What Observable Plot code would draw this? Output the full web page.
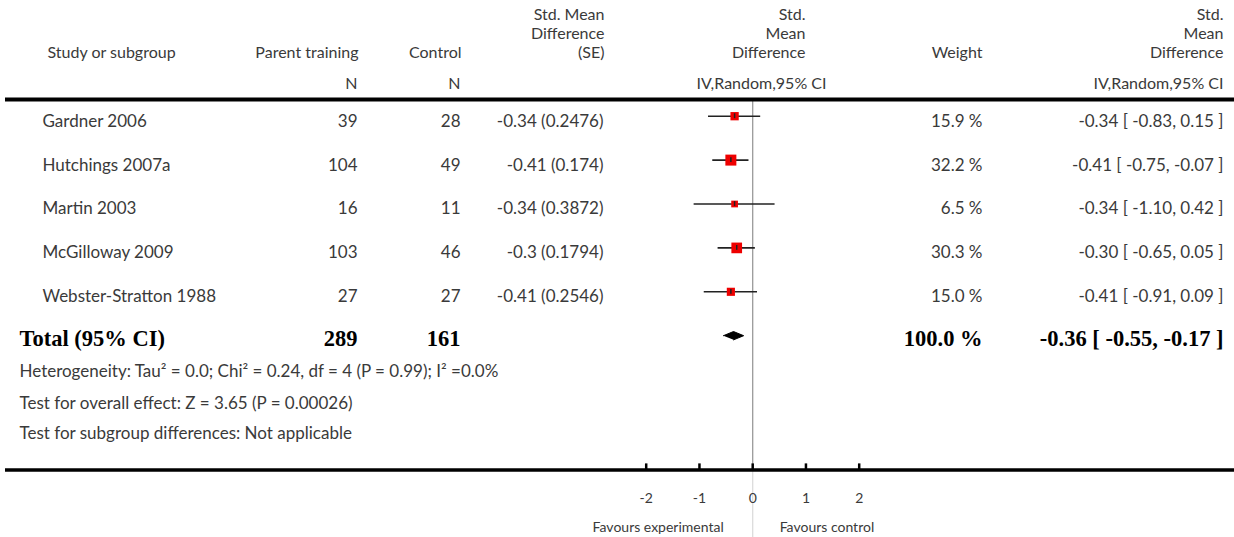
<!DOCTYPE html>
<html>
<head>
<meta charset="utf-8">
<script src="https://cdn.jsdelivr.net/npm/d3@7"></script>
<script src="https://cdn.jsdelivr.net/npm/@observablehq/plot@0.6"></script>
<style>
  html, body { margin: 0; padding: 0; background: #fff; }
  #chart svg { display: block; }
</style>
</head>
<body>
<div id="chart"></div>
<script>
// ---------- data ----------
const studies = ["Gardner 2006", "Hutchings 2007a", "Martin 2003", "McGilloway 2009", "Webster-Stratton 1988"];
const nParent = [39, 104, 16, 103, 27];
const nControl = [28, 49, 11, 46, 27];
const smd = [-0.34, -0.41, -0.34, -0.3, -0.41];
const se = [0.2476, 0.174, 0.3872, 0.1794, 0.2546];
const weights = [15.9, 32.2, 6.5, 30.3, 15.0];
const ciLow = [-0.83, -0.75, -1.10, -0.65, -0.91];
const ciHigh = [0.15, -0.07, 0.42, 0.05, 0.09];
const totalLabel = "Total (95% CI)";
const totalN = [289, 161];
const totalWeight = 100.0;
const totalEst = [-0.36, -0.55, -0.17]; // estimate, low, high
const xTicks = [-2, -1, 0, 1, 2];
const footnotes = [
  "Heterogeneity: Tau\u00b2 = 0.0; Chi\u00b2 = 0.24, df = 4 (P = 0.99); I\u00b2 =0.0%",
  "Test for overall effect: Z = 3.65 (P = 0.00026)",
  "Test for subgroup differences: Not applicable"
];
const favours = ["Favours experimental", "Favours control"];

// ---------- table ----------
const rows = studies.map((name, i) => ({
  name, n1: nParent[i], n2: nControl[i], smd: smd[i], se: se[i],
  w: weights[i], lo: ciLow[i], hi: ciHigh[i], row: i + 1
}));
const totalRow = 6;
const f2 = d => d.toFixed(2);
const ciText = (e, l, h) => `${f2(e)} [ ${f2(l)}, ${f2(h)} ]`;
const diamond = [
  {x: totalEst[1], y: totalRow},
  {x: totalEst[0], y: totalRow - 0.095},
  {x: totalEst[2], y: totalRow},
  {x: totalEst[0], y: totalRow + 0.095}
];

// layout rows (row units of the y scale)
const L = {h1: -1.30, h2: -0.875, h3: -0.44, hN: 0.271, topRule: 0.62,
  foot: [6.81, 7.54, 8.22], axis: 9.06, tickTop: 8.92, tickLab: 9.71, fav: 10.38, bottom: 10.62};

const sans = "Lato, 'Open Sans', sans-serif";
const serif = "'Liberation Serif', 'DejaVu Serif', serif";
const T = {fill: "#3a3a3a", fontSize: 17, fontFamily: sans, frameAnchor: "left"};
const TH = {...T, fontSize: 16};
const TB = {fill: "#000", fontSize: 22.5, fontWeight: "bold", fontFamily: serif, frameAnchor: "left"};
const one = [0];

const chart = Plot.plot({
  width: 1234,
  height: 537,
  margin: 0,
  x: {domain: [-2, 2], range: [645.7, 858.7], axis: null},
  y: {domain: [0, 10], range: [71.8, 510.8], axis: null},
  r: {type: "linear", domain: [6.5, 32.2], range: [3.8, 6.2]},
  style: {fontFamily: sans, background: "#fff"},
  marks: [
    // header text
    Plot.text(one, {...TH, y: L.h3, dx: 47, textAnchor: "start", text: () => "Study or subgroup"}),
    Plot.text(one, {...TH, y: L.h3, dx: 358, textAnchor: "end", text: () => "Parent training"}),
    Plot.text(one, {...TH, y: L.hN, dx: 357, textAnchor: "end", text: () => "N"}),
    Plot.text(one, {...TH, y: L.h3, dx: 461, textAnchor: "end", text: () => "Control"}),
    Plot.text(one, {...TH, y: L.hN, dx: 460, textAnchor: "end", text: () => "N"}),
    Plot.text(one, {...TH, y: L.h1, dx: 604, textAnchor: "end", text: () => "Std. Mean"}),
    Plot.text(one, {...TH, y: L.h2, dx: 604, textAnchor: "end", text: () => "Difference"}),
    Plot.text(one, {...TH, y: L.h3, dx: 604, textAnchor: "end", text: () => "(SE)"}),
    Plot.text(one, {...TH, y: L.h1, dx: 805, textAnchor: "end", text: () => "Std."}),
    Plot.text(one, {...TH, y: L.h2, dx: 805, textAnchor: "end", text: () => "Mean"}),
    Plot.text(one, {...TH, y: L.h3, dx: 805, textAnchor: "end", text: () => "Difference"}),
    Plot.text(one, {...TH, y: L.hN, dx: 761, textAnchor: "middle", text: () => "IV,Random,95% CI"}),
    Plot.text(one, {...TH, y: L.h3, dx: 982, textAnchor: "end", text: () => "Weight"}),
    Plot.text(one, {...TH, y: L.h1, dx: 1223, textAnchor: "end", text: () => "Std."}),
    Plot.text(one, {...TH, y: L.h2, dx: 1223, textAnchor: "end", text: () => "Mean"}),
    Plot.text(one, {...TH, y: L.h3, dx: 1223, textAnchor: "end", text: () => "Difference"}),
    Plot.text(one, {...TH, y: L.hN, dx: 1223, textAnchor: "end", text: () => "IV,Random,95% CI"}),

    // rules
    Plot.ruleX([0], {y1: L.topRule, y2: L.axis, stroke: "#9a9a9a", strokeWidth: 1.3}),
    Plot.ruleX([0], {y1: L.axis, y2: L.bottom, stroke: "#dcdcdc", strokeWidth: 1.3}),
    Plot.ruleY([L.topRule], {stroke: "#000", strokeWidth: 4, insetLeft: 5}),
    Plot.ruleY([L.axis], {stroke: "#000", strokeWidth: 3.5, insetLeft: 5}),
    Plot.ruleX(xTicks, {y1: L.tickTop, y2: L.axis, stroke: "#000", strokeWidth: 2.5}),
    Plot.text(xTicks, {x: d => d, y: L.tickLab, text: d => String(d), fill: "#3a3a3a", fontSize: 14}),
    Plot.text([favours[0]], {x: 0, y: L.fav, text: d => d, fill: "#3a3a3a", fontSize: 14, textAnchor: "end", dx: -29}),
    Plot.text([favours[1]], {x: 0, y: L.fav, text: d => d, fill: "#3a3a3a", fontSize: 14, textAnchor: "start", dx: 27}),

    // study rows
    Plot.text(rows, {...T, y: "row", dy: 5, dx: 42, textAnchor: "start", text: "name"}),
    Plot.text(rows, {...T, y: "row", dy: 5, dx: 357, textAnchor: "end", text: "n1"}),
    Plot.text(rows, {...T, y: "row", dy: 5, dx: 460, textAnchor: "end", text: "n2"}),
    Plot.text(rows, {...T, y: "row", dy: 5, dx: 603, textAnchor: "end", text: d => `${d.smd} (${d.se})`}),
    Plot.text(rows, {...T, y: "row", dy: 5, dx: 982, textAnchor: "end", text: d => `${d.w.toFixed(1)} %`}),
    Plot.text(rows, {...T, y: "row", dy: 5, dx: 1223, textAnchor: "end", text: d => ciText(d.smd, d.lo, d.hi)}),

    // forest marks
    Plot.ruleY(rows, {y: "row", x1: "lo", x2: "hi", stroke: "#222", strokeWidth: 1.6}),
    Plot.dot(rows, {x: "smd", y: "row", r: "w", symbol: "square", fill: "#ee0000", stroke: "none"}),
    Plot.ruleX(rows, {x: "smd", y1: d => d.row - 0.055, y2: d => d.row + 0.055, stroke: "#222", strokeWidth: 1.5}),

    // total row
    Plot.text(one, {...TB, y: totalRow, dy: 3, dx: 19, textAnchor: "start", text: () => totalLabel}),
    Plot.text(one, {...TB, y: totalRow, dy: 3, dx: 357, textAnchor: "end", text: () => String(totalN[0])}),
    Plot.text(one, {...TB, y: totalRow, dy: 3, dx: 460, textAnchor: "end", text: () => String(totalN[1])}),
    Plot.text(one, {...TB, y: totalRow, dy: 3, dx: 982, textAnchor: "end", text: () => `${totalWeight.toFixed(1)} %`}),
    Plot.text(one, {...TB, y: totalRow, dy: 3, dx: 1223, textAnchor: "end", text: () => ciText(...totalEst)}),
    Plot.line(diamond, {x: "x", y: "y", fill: "#000", stroke: "#000", strokeWidth: 1}),

    // footnotes
    Plot.text(footnotes, {...T, y: (d, i) => L.foot[i], dx: 19, textAnchor: "start", text: d => d})
  ]
});
document.getElementById("chart").append(chart);
</script>
</body>
</html>
